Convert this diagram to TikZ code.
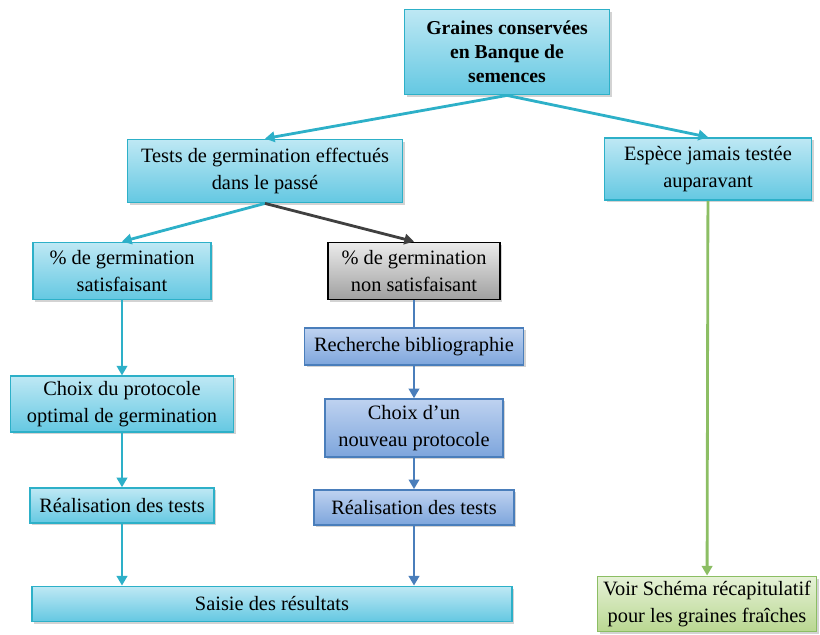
\documentclass[tikz,border=0pt]{standalone}
\usepackage{fontspec}
\setmainfont{Liberation Serif}
\usepackage{xcolor}
\usepackage{tikz}
\usetikzlibrary{positioning,arrows.meta,shadows}

\definecolor{tealline}{RGB}{45,176,200}
\definecolor{tealtop}{RGB}{190,232,244}
\definecolor{tealbot}{RGB}{100,200,226}
\definecolor{blueline}{RGB}{74,126,187}
\definecolor{bluetop}{RGB}{190,210,240}
\definecolor{bluebot}{RGB}{125,165,220}
\definecolor{greenline}{RGB}{140,190,100}
\definecolor{greentop}{RGB}{230,242,215}
\definecolor{greenbot}{RGB}{185,215,145}
\definecolor{greytop}{RGB}{235,235,235}
\definecolor{greybot}{RGB}{160,160,160}

\begin{document}
\begin{tikzpicture}[
  x=0.025cm, y=-0.025cm,
  base/.style={draw, line width=1.3pt, align=center, inner sep=2pt,
               font=\fontsize{14.5}{19.5}\selectfont,
               drop shadow={shadow xshift=1.5pt, shadow yshift=-1.5pt, opacity=0.35}},
  tbox/.style={base, draw=tealline, top color=tealtop, bottom color=tealbot},
  bbox/.style={base, draw=blueline, top color=bluetop, bottom color=bluebot},
  gbox/.style={base, draw=greenline, top color=greentop, bottom color=greenbot},
  nbox/.style={base, draw=black, top color=greytop, bottom color=greybot},
  arr/.style={-{Triangle[length=2.4mm,width=2.6mm]}, line width=2pt},
  node distance=1cm
]
\useasboundingbox (0,0) rectangle (820,635);

%% Top of the tree
\node[tbox, minimum width=5.125cm, minimum height=2.125cm,
      font=\fontsize{14}{17}\selectfont\bfseries] (graines) at (507,52)
  {Graines conservées\\en Banque de\\semences};
\node[tbox, minimum width=6.875cm, minimum height=1.575cm] (tests) at (265,171)
  {Tests de germination effectués\\dans le passé};
\node[tbox, minimum width=5.175cm, minimum height=1.55cm] (espece) at (708,169)
  {Espèce jamais testée\\auparavant};

\draw[arr, tealline] (graines.south) -- (tests.north);
\draw[arr, tealline] (graines.south) -- (espece.north);

%% Left branch
\node[tbox, minimum width=4.45cm, minimum height=1.425cm] (sat) at (122,271)
  {\% de germination\\satisfaisant};
\node[tbox, minimum width=5.575cm, minimum height=1.4cm, below=1.875cm of sat] (choixopt)
  {Choix du protocole\\optimal de germination};
\node[tbox, minimum width=4.6cm, minimum height=0.875cm, below=1.35cm of choixopt] (realg)
  {Réalisation des tests};

%% Middle branch
\node[nbox, minimum width=4.3cm, minimum height=1.425cm] (nonsat) at (414,271)
  {\% de germination\\non satisfaisant};
\node[bbox, minimum width=5.475cm, minimum height=0.925cm, below=0.675cm of nonsat] (biblio)
  {Recherche bibliographie};
\node[bbox, minimum width=4.45cm, minimum height=1.45cm, below=0.8cm of biblio] (choixnew)
  {Choix d’un\\nouveau protocole};
\node[bbox, minimum width=5cm, minimum height=0.875cm, below=0.775cm of choixnew] (reald)
  {Réalisation des tests};

\draw[arr, tealline] (tests.south) -- (sat.north);
\draw[arr, black!75] (tests.south) -- (nonsat.north);

%% Results
\node[tbox, minimum width=12cm, minimum height=0.875cm] (saisie) at (272,604)
  {Saisie des résultats};

\draw[arr, tealline] (sat) -- (choixopt);
\draw[arr, tealline] (choixopt) -- (realg);
\draw[arr, tealline] (realg.south) -- (realg.south |- saisie.north);
\draw[line width=2pt, blueline] (nonsat) -- (biblio);
\draw[arr, blueline] (biblio) -- (choixnew);
\draw[arr, blueline] (choixnew) -- (reald);
\draw[arr, blueline] (reald.south) -- (reald.south |- saisie.north);

%% Right branch
\node[gbox, minimum width=5.475cm, minimum height=1.375cm] (voir) at (707,604)
  {Voir Schéma récapitulatif\\pour les graines fraîches};
\draw[arr, greenline] (espece) -- (voir);
\end{tikzpicture}
\end{document}
